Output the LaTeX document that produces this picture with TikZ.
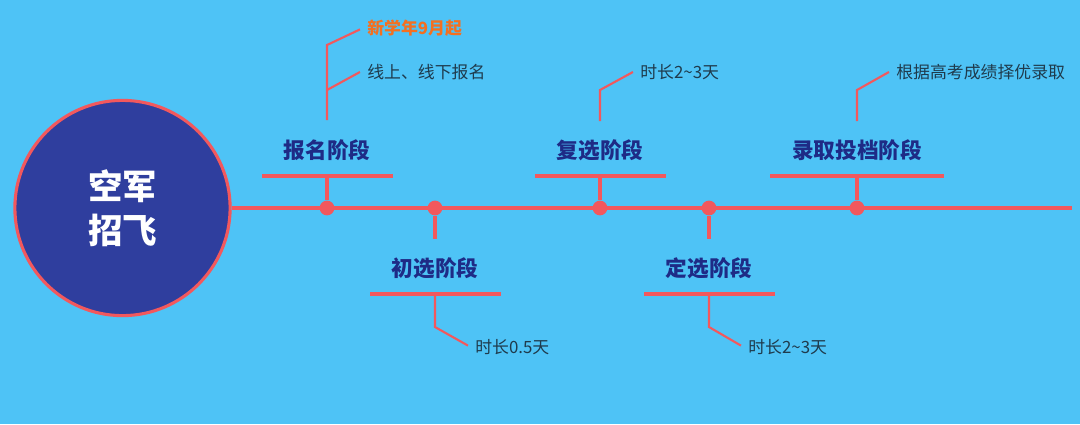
\documentclass[tikz,border=0pt]{standalone}
\usepackage{fontspec}
\setmainfont{Noto Sans CJK SC}
\usetikzlibrary{positioning}
\definecolor{skyblue}{HTML}{4EC3F6}
\definecolor{hubblue}{HTML}{2F3E9E}
\definecolor{linered}{HTML}{F2585D}
\definecolor{stageblue}{HTML}{1E2B86}
\definecolor{notegray}{HTML}{1F3B4D}
\definecolor{noteorange}{HTML}{F47020}

\begin{document}
\begin{tikzpicture}[x=0.025cm,y=-0.025cm,
  line/.style={draw=linered,line width=2.2pt},
  thinline/.style={draw=linered,line width=1.5pt},
  dot/.style={circle,fill=linered,inner sep=0pt,minimum size=10.5pt},
  stage/.style={font=\fontsize{15.4}{18}\selectfont\bfseries,text=stageblue},
  note/.style={font=\fontsize{12}{14}\selectfont,text=notegray,anchor=west,inner sep=0pt}]
\fill[skyblue] (0,0) rectangle (1080,424);
% hub
\node[circle,draw=linered,line width=2.2pt,fill=hubblue,minimum size=5.38cm,align=center,
  text=white,font=\fontsize{24.5}{31}\selectfont\bfseries] (hub) at (122.5,208) {空军\\招飞};
% dots on the main line
\node[dot] (d1) at (327,208) {};
\node[dot] (d2) at (435,208) {};
\node[dot] (d3) at (600,208) {};
\node[dot] (d4) at (709,208) {};
\node[dot] (d5) at (857,208) {};
\coordinate (lineend) at (1072,208);
\draw[line] (hub.east) -- (lineend);
% stage 1
\node[stage] (baoming) at (327,150) {报名阶段};
\coordinate (b1) at (327,176);
\draw[line] (b1) ++(-65,0) -- ++(131,0);
\draw[line] (d1) -- (b1);
\node[note,text=noteorange,font=\fontsize{12}{14}\selectfont\bfseries] (n1a) at (367,28) {新学年9月起};
\node[note] (n1b) at (367,72) {线上、线下报名};
\coordinate (t1) at (327,120);
\coordinate (k1a) at (327,45);
\coordinate (k1b) at (327,90);
\draw[thinline] (t1) -- (k1a) -- ([xshift=-5pt,yshift=-1pt]n1a.west);
\draw[thinline] (k1b) -- ([xshift=-5pt]n1b.west);
% stage 2
\node[stage] (chuxuan) at (435,268) {初选阶段};
\coordinate (b2) at (435,294);
\coordinate (s2) at (435,239);
\draw[line] (b2) ++(-65,0) -- ++(131,0);
\draw[line] (d2) -- (s2);
\node[note] (n2) at (475,347) {时长0.5天};
\coordinate (k2) at (435,327);
\draw[thinline] (b2) -- (k2) -- ([xshift=-5pt,yshift=1pt]n2.west);
% stage 3
\node[stage] (fuxuan) at (600,150) {复选阶段};
\coordinate (b3) at (600,176);
\draw[line] (b3) ++(-65,0) -- ++(131,0);
\draw[line] (d3) -- (b3);
\node[note] (n3) at (640,72) {时长2\textasciitilde3天};
\coordinate (t3) at (600,121);
\coordinate (k3) at (600,90);
\draw[thinline] (t3) -- (k3) -- ([xshift=-5pt]n3.west);
% stage 4
\node[stage] (dingxuan) at (709,268) {定选阶段};
\coordinate (b4) at (709,294);
\coordinate (s4) at (709,239);
\draw[line] (b4) ++(-65,0) -- ++(131,0);
\draw[line] (d4) -- (s4);
\node[note] (n4) at (748,347) {时长2\textasciitilde3天};
\coordinate (k4) at (709,327);
\draw[thinline] (b4) -- (k4) -- ([xshift=-5pt,yshift=1pt]n4.west);
% stage 5
\node[stage] (luqu) at (857,150) {录取投档阶段};
\coordinate (b5) at (857,176);
\draw[line] (b5) ++(-87,0) -- ++(174,0);
\draw[line] (d5) -- (b5);
\node[note] (n5) at (896,72) {根据高考成绩择优录取};
\coordinate (t5) at (857,121);
\coordinate (k5) at (857,90);
\draw[thinline] (t5) -- (k5) -- ([xshift=-5pt]n5.west);
\end{tikzpicture}
\end{document}
